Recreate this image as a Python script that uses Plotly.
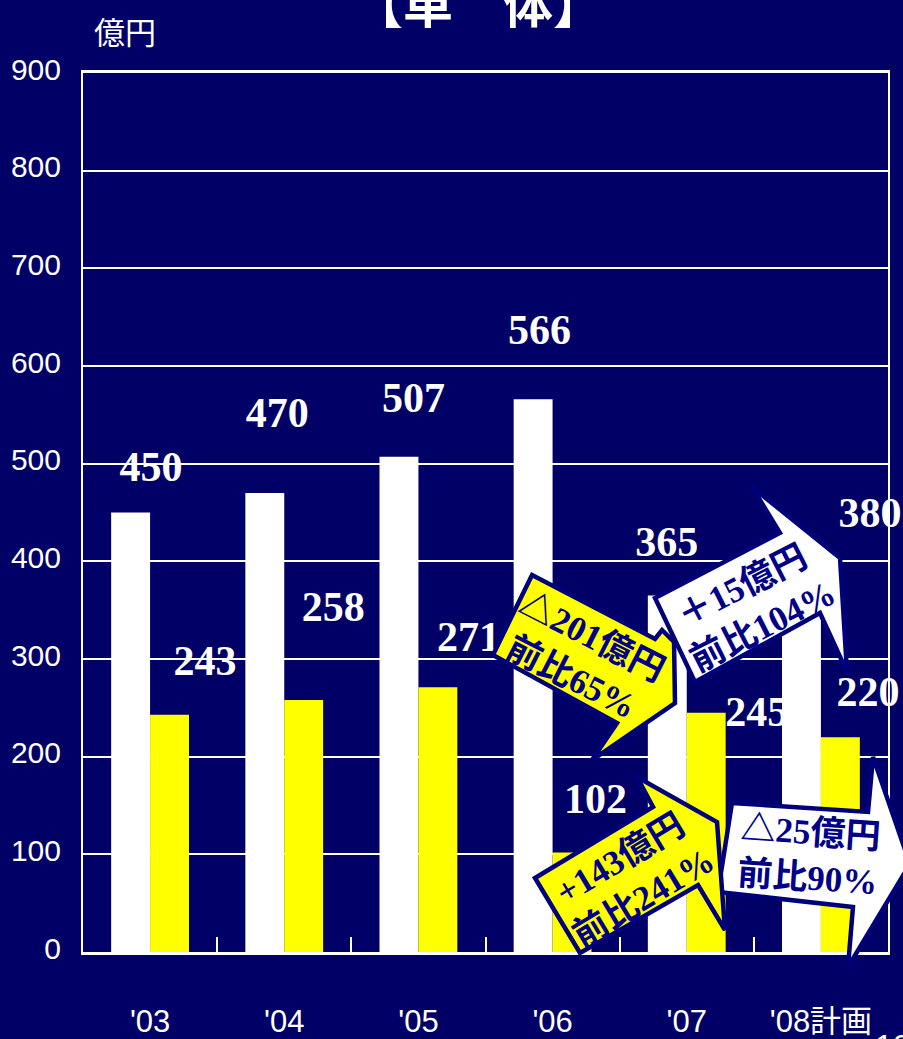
import plotly.graph_objects as go

# ---------------- data ----------------
categories = ["'03", "'04", "'05", "'06", "'07", "'08計画"]
white_values = [450, 470, 507, 566, 365, 380]
yellow_values = [243, 258, 271, 102, 245, 220]
y_ticks = [0, 100, 200, 300, 400, 500, 600, 700, 800, 900]

arrow_texts = ["△201億円<br>前比65%", "＋15億円<br>前比104%",
               "+143億円<br>前比241%", "△25億円<br>前比90%"]

# ---------------- layout geometry (pixels) ----------------
W, H = 903, 1039
ML, MR, MT, MB = 83, 15, 73, 87
PW, PH = W - ML - MR, H - MT - MB
NAVY = "#000066"
YMAX = 900
cat_px = PW / len(categories)
val_px = PH / YMAX

def px2paper(px, py):
    return (px - ML) / PW, (H - MB - py) / PH

# label offsets (pixels) relative to category centre / bar top
white_dx = [1, -7, -5, -13, -20, 49]
white_dy = [42, 76, 55, 66, 50, 64]
yellow_dx = [55, 49, 50, 43, 70, 47]
yellow_dy = [50, 90, 47, 50, -3, 42]

LABEL_FONT = dict(family="Liberation Serif, Times New Roman, serif", size=42, color="white")
TICK_FAMILY = "Liberation Sans Narrow, Liberation Sans, Arial, Noto Sans CJK JP, sans-serif"

fig = go.Figure()
fig.add_trace(go.Bar(x=categories, y=white_values, marker=dict(color="white", line=dict(width=0)),
                     hoverinfo="skip", showlegend=False))
fig.add_trace(go.Bar(x=categories, y=yellow_values, marker=dict(color="#FFFF00", line=dict(width=0)),
                     hoverinfo="skip", showlegend=False))

# data labels on an overlaid numeric axis so they sit below the arrows
for vals, dxs, dys in [(white_values, white_dx, white_dy), (yellow_values, yellow_dx, yellow_dy)]:
    fig.add_trace(go.Scatter(
        x=[i + dx / cat_px for i, dx in enumerate(dxs)],
        y=[v + dy / val_px for v, dy in zip(vals, dys)],
        text=[f"<b>{v}</b>" for v in vals],
        mode="text", textposition="middle center", textfont=LABEL_FONT,
        xaxis="x2", yaxis="y", cliponaxis=False, hoverinfo="skip", showlegend=False))

# ---------------- arrows ----------------
arrow_polys = [
    ("white", [(655, 598), (780, 533), (752, 487), (840, 558), (847, 672), (820, 613), (695, 682)]),
    ("white", [(732, 803), (868, 812), (873, 757), (910, 864), (848, 967), (853, 907), (718, 892)]),
    ("#FFFF00", [(532, 575), (655, 639), (662, 630), (674, 642), (675, 703), (592, 760), (617, 723), (493, 655)]),
    ("#FFFF00", [(535, 878), (653, 807), (637, 777), (717, 822), (725, 930), (698, 885), (580, 953)]),
]
shapes = []
for color, pts in arrow_polys:
    pp = [px2paper(x, y) for x, y in pts]
    path = "M " + " L ".join(f"{a:.4f},{b:.4f}" for a, b in pp) + " Z"
    shapes.append(dict(type="path", xref="paper", yref="paper", path=path,
                       fillcolor=color, line=dict(color="#00007A", width=4.5), layer="above"))

arrow_text_pos = [(582, 657, 27), (753, 607, -27), (632, 878, -31), (809, 855, 4)]
ARROW_FONT = dict(family="Liberation Serif, Times New Roman, Noto Sans CJK JP, serif", size=35, color="#000088")
annotations = []
for txt, (x, y, ang) in zip(arrow_texts, arrow_text_pos):
    xp, yp = px2paper(x, y)
    annotations.append(dict(text=f"<b>{txt}</b>", x=xp, y=yp, xref="paper", yref="paper",
                            xanchor="center", yanchor="middle", showarrow=False,
                            textangle=ang, font=ARROW_FONT, align="center"))

# title, unit, page number
tx, ty = px2paper(478, 1)
annotations.append(dict(text="<b>【単　体】</b>", x=tx, y=ty, xref="paper", yref="paper",
                        xanchor="center", yanchor="middle", showarrow=False,
                        font=dict(family="Noto Sans CJK JP, sans-serif", size=50, color="white")))
ux, uy = px2paper(125, 30)
annotations.append(dict(text="億円", x=ux, y=uy, xref="paper", yref="paper",
                        xanchor="center", yanchor="middle", showarrow=False,
                        font=dict(family="Noto Sans CJK JP, sans-serif", size=31, color="white")))
nx, ny = px2paper(873, 1026)
annotations.append(dict(text="10", x=nx, y=ny, xref="paper", yref="paper",
                        xanchor="left", yanchor="top", showarrow=False,
                        font=dict(family=TICK_FAMILY, size=32, color="white")))

fig.update_layout(
    width=W, height=H,
    margin=dict(l=ML, r=MR, t=MT, b=MB, pad=0, autoexpand=False),
    paper_bgcolor=NAVY, plot_bgcolor=NAVY,
    barmode="group", bargap=0.42, bargroupgap=0,
    showlegend=False,
    shapes=shapes, annotations=annotations,
    xaxis=dict(type="category", showgrid=False, showline=True, linecolor="white", linewidth=3,
               mirror=True, ticks="inside", tickson="boundaries", ticklen=15, tickwidth=1.5,
               tickcolor="white", ticklabelstandoff=40, automargin=False,
               tickfont=dict(family=TICK_FAMILY, size=31, color="white"), fixedrange=True),
    xaxis2=dict(overlaying="x", range=[-0.5, len(categories) - 0.5], visible=False, fixedrange=True),
    yaxis=dict(range=[0, YMAX], tickvals=y_ticks, ticktext=[str(v) for v in y_ticks],
               showgrid=True, gridcolor="white", gridwidth=2, showline=True, linecolor="white",
               linewidth=2, mirror=True, ticks="", zeroline=False, ticklabelstandoff=14,
               ticklabelshift=-4, automargin=False,
               tickfont=dict(family=TICK_FAMILY, size=30, color="white"), fixedrange=True),
)

fig.write_html("out.html", config={"displayModeBar": False},
               post_script="document.body.style.margin='0';document.body.style.overflow='hidden';")
